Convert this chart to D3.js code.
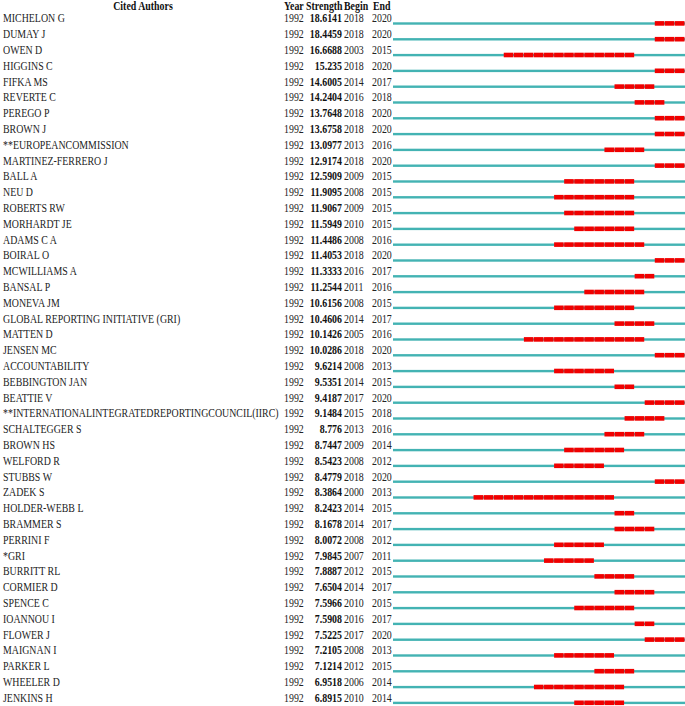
<!DOCTYPE html>
<html>
  <head>
    <title>Citation Bursts</title>
    <style>
      body { margin: 0; background: #fff; }
      text { font-family: "Liberation Serif", "Times New Roman", serif; font-size: 11.5px; fill: #222; }
      .head { font-weight: bold; fill: #111; }
      .strength { font-weight: bold; fill: #111; }
    </style>
  </head>

  <body>
    <div id="chart"></div>

    <script src="https://d3js.org/d3.v7.min.js" type="text/javascript"></script>

<script>

  var authors = ["MICHELON G", "DUMAY J", "OWEN D", "HIGGINS C", "FIFKA MS", "REVERTE C", "PEREGO P",
    "BROWN J", "**EUROPEANCOMMISSION", "MARTINEZ-FERRERO J", "BALL A", "NEU D", "ROBERTS RW",
    "MORHARDT JE", "ADAMS C A", "BOIRAL O", "MCWILLIAMS A", "BANSAL P", "MONEVA JM",
    "GLOBAL REPORTING INITIATIVE (GRI)", "MATTEN D", "JENSEN MC", "ACCOUNTABILITY", "BEBBINGTON JAN",
    "BEATTIE V", "**INTERNATIONALINTEGRATEDREPORTINGCOUNCIL(IIRC)", "SCHALTEGGER S", "BROWN HS",
    "WELFORD R", "STUBBS W", "ZADEK S", "HOLDER-WEBB L", "BRAMMER S", "PERRINI F", "*GRI",
    "BURRITT RL", "CORMIER D", "SPENCE C", "IOANNOU I", "FLOWER J", "MAIGNAN I", "PARKER L",
    "WHEELER D", "JENKINS H"];

  var strength = ["18.6141", "18.4459", "16.6688", "15.235", "14.6005", "14.2404", "13.7648",
    "13.6758", "13.0977", "12.9174", "12.5909", "11.9095", "11.9067",
    "11.5949", "11.4486", "11.4053", "11.3333", "11.2544", "10.6156",
    "10.4606", "10.1426", "10.0286", "9.6214", "9.5351",
    "9.4187", "9.1484", "8.776", "8.7447",
    "8.5423", "8.4779", "8.3864", "8.2423", "8.1678", "8.0072", "7.9845",
    "7.8887", "7.6504", "7.5966", "7.5908", "7.5225", "7.2105", "7.1214",
    "6.9518", "6.8915"];

  var begin = [2018, 2018, 2003, 2018, 2014, 2016, 2018,
    2018, 2013, 2018, 2009, 2008, 2009,
    2010, 2008, 2018, 2016, 2011, 2008,
    2014, 2005, 2018, 2008, 2014,
    2017, 2015, 2013, 2009,
    2008, 2018, 2000, 2014, 2014, 2008, 2007,
    2012, 2014, 2010, 2016, 2017, 2008, 2012,
    2006, 2010];

  var end = [2020, 2020, 2015, 2020, 2017, 2018, 2020,
    2020, 2016, 2020, 2015, 2015, 2015,
    2015, 2016, 2020, 2017, 2016, 2015,
    2017, 2016, 2020, 2013, 2015,
    2020, 2018, 2016, 2014,
    2012, 2020, 2013, 2015, 2017, 2012, 2011,
    2015, 2017, 2015, 2017, 2020, 2013, 2015,
    2014, 2014];

  var startYear = 1992, endYear = 2020;
  var headers = ["Cited Authors", "Year", "Strength", "Begin", "End"];

  var width = 685, height = 706;
  var sx = 0.86;

  var svg = d3.select('#chart')
    .append('svg')
    .attr("width", width)
    .attr("height", height);

  var rows = authors.map(function(a, i) {
    return {name: a, strength: strength[i], begin: begin[i], end: end[i], i: i};
  });

  var y = d3.scaleLinear()
    .domain([0, rows.length - 1])
    .range([18.3, 697.7]);

  var x = d3.scaleLinear()
    .domain([startYear, endYear + 1])
    .range([393, 685]);

  function tr(px, py) {
    return "translate(" + px + "," + py + ") scale(" + sx + ",1)";
  }

  // header
  var hx = [143, 284, 306, 344, 373];
  svg.selectAll('text.head')
    .data(headers)
    .enter()
    .append('text')
    .attr('class', 'head')
    .attr('text-anchor', function(d, i) { return i === 0 ? 'middle' : 'start'; })
    .attr('transform', function(d, i) { return tr(hx[i], 10); })
    .text(function(d) { return d; });

  var g = svg.selectAll('g.row')
    .data(rows)
    .enter()
    .append('g')
    .attr('class', 'row');

  g.append('text')
    .attr('transform', function(d) { return tr(3, y(d.i) + 4); })
    .text(function(d) { return d.name; });

  g.append('text')
    .attr('transform', function(d) { return tr(284, y(d.i) + 4); })
    .text(startYear);

  g.append('text')
    .attr('class', 'strength')
    .attr('text-anchor', 'end')
    .attr('transform', function(d) { return tr(342, y(d.i) + 4); })
    .text(function(d) { return d.strength; });

  g.append('text')
    .attr('transform', function(d) { return tr(344, y(d.i) + 4); })
    .text(function(d) { return d.begin; });

  g.append('text')
    .attr('transform', function(d) { return tr(372, y(d.i) + 4); })
    .text(function(d) { return d.end; });

  // timeline
  g.append('rect')
    .attr('x', x(startYear))
    .attr('y', function(d) { return y(d.i) + 4; })
    .attr('width', x(endYear + 1) - x(startYear))
    .attr('height', 2.4)
    .attr('fill', '#43b3b3');

  // burst years
  g.selectAll('rect.burst')
    .data(function(d) {
      return d3.range(d.begin, d.end + 1).map(function(yr) { return {yr: yr, i: d.i}; });
    })
    .enter()
    .append('rect')
    .attr('class', 'burst')
    .attr('x', function(d) { return x(d.yr); })
    .attr('y', function(d) { return y(d.i) + 2.8; })
    .attr('width', function(d) { return x(d.yr + 1) - x(d.yr) - 0.5; })
    .attr('height', 4.6)
    .attr('fill', '#f00000');

</script>
  </body>
</html>
